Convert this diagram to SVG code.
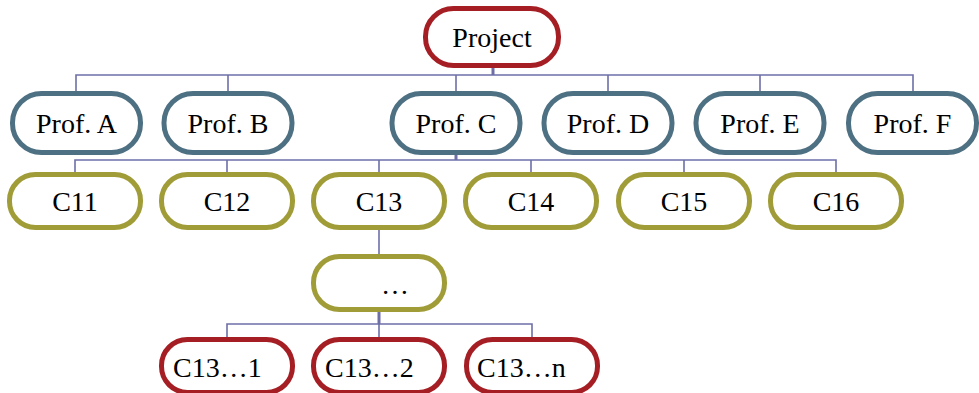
<svg xmlns="http://www.w3.org/2000/svg" width="979" height="393" viewBox="0 0 979 393">
<style>
.n rect{fill:#fff;stroke-width:5}
.red rect{stroke:#A51E24}
.blue rect{stroke:#4E7083}
.olive rect{stroke:#A09C38}
text{font-family:"Liberation Serif","Times New Roman",serif;font-size:28px;fill:#000}
.c{text-anchor:middle}
#connectors path{fill:none;stroke:#6E6FA8;stroke-width:1.6}
#connectors path.t{stroke-width:3}
</style>
<g id="connectors">
<path class="t" d="M493 66V75"/>
<path d="M76 91V75H913V91M228 75V91M456 75V91M608 75V91M760 75V91"/>
<path class="t" d="M456 155V160"/>
<path d="M75 172V160H836V172M227 160V172M379 160V172M531 160V172M684 160V172"/>
<path d="M379 229V256"/>
<path class="t" d="M379 311V324"/>
<path d="M227 337V324H532V337M379 324V337"/>
</g>
<g id="project" class="n red"><rect x="425.5" y="8.5" width="133" height="57" rx="28"/><text class="c" x="492" y="47">Project</text></g>
<g id="profA" class="n blue"><rect x="12.5" y="93.5" width="128" height="59" rx="29"/><text class="c" x="76.5" y="133">Prof. A</text></g>
<g id="profB" class="n blue"><rect x="164" y="93.5" width="128" height="59" rx="29"/><text class="c" x="228" y="133">Prof. B</text></g>
<g id="profC" class="n blue"><rect x="392" y="93.5" width="128" height="59" rx="29"/><text class="c" x="456" y="133">Prof. C</text></g>
<g id="profD" class="n blue"><rect x="544" y="93.5" width="128" height="59" rx="29"/><text class="c" x="608" y="133">Prof. D</text></g>
<g id="profE" class="n blue"><rect x="696" y="93.5" width="128" height="59" rx="29"/><text class="c" x="760" y="133">Prof. E</text></g>
<g id="profF" class="n blue"><rect x="848.5" y="93.5" width="128" height="59" rx="29"/><text class="c" x="912.5" y="133">Prof. F</text></g>
<g id="c11" class="n olive"><rect x="9.5" y="174.5" width="131" height="53" rx="26"/><text class="c" x="75" y="211">C11</text></g>
<g id="c12" class="n olive"><rect x="161.5" y="174.5" width="131" height="53" rx="26"/><text class="c" x="227" y="211">C12</text></g>
<g id="c13" class="n olive"><rect x="313.5" y="174.5" width="131" height="53" rx="26"/><text class="c" x="379" y="211">C13</text></g>
<g id="c14" class="n olive"><rect x="465.5" y="174.5" width="131" height="53" rx="26"/><text class="c" x="531" y="211">C14</text></g>
<g id="c15" class="n olive"><rect x="618.5" y="174.5" width="131" height="53" rx="26"/><text class="c" x="684" y="211">C15</text></g>
<g id="c16" class="n olive"><rect x="770.5" y="174.5" width="131" height="53" rx="26"/><text class="c" x="836" y="211">C16</text></g>
<g id="dots" class="n olive"><rect x="313.5" y="256.5" width="131" height="53" rx="26"/><text x="381" y="294">…</text></g>
<g id="c13-1" class="n red"><rect x="161.5" y="339.5" width="131" height="53" rx="26"/><text x="173" y="377">C13…1</text></g>
<g id="c13-2" class="n red"><rect x="313.5" y="339.5" width="131" height="53" rx="26"/><text x="325" y="377">C13…2</text></g>
<g id="c13-n" class="n red"><rect x="466.5" y="339.5" width="131" height="53" rx="26"/><text x="477" y="377">C13…n</text></g>
</svg>
